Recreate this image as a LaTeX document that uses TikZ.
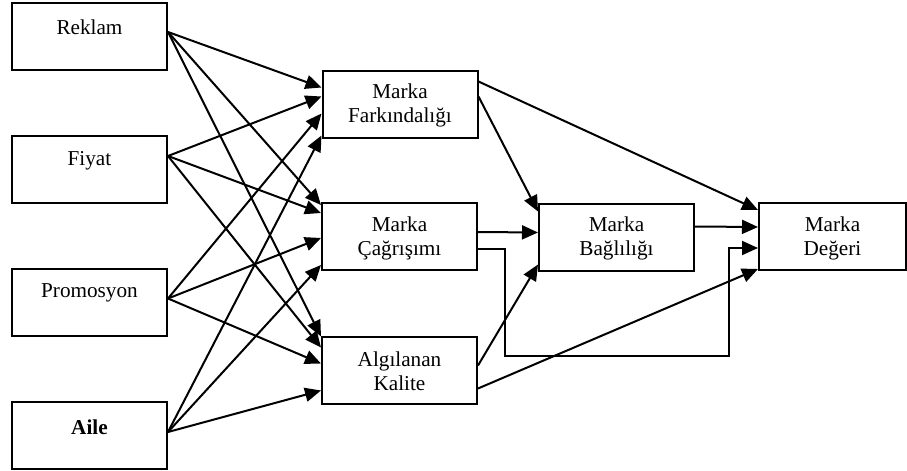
\documentclass[tikz,border=0pt]{standalone}
\usepackage{fontspec}
\setmainfont{Liberation Serif}
\usetikzlibrary{arrows.meta,calc}
\begin{document}
\begin{tikzpicture}[x=0.5pt,y=-0.5pt,
  box/.style={draw,line width=1pt,inner sep=0pt,minimum width=77.5pt,minimum height=33.5pt},
  txt/.style={align=center,inner sep=0pt,font=\fontsize{10.6}{12}\selectfont},
  conn/.style={line width=1pt,-{Triangle[length=8pt,width=7pt]}}]
\useasboundingbox (0,0) rectangle (907,471);
% boxes
\node[box] (reklam) at (89.5,36.5) {};
\node[box] (fiyat) at (89.5,169.5) {};
\node[box] (promo) at (89.5,302) {};
\node[box] (aile) at (89.5,435.5) {};
\node[box] (fark) at (400,104) {};
\node[box] (cag) at (399.5,236.5) {};
\node[box] (kal) at (399.5,370) {};
\node[box] (bag) at (616.5,237) {};
\node[box,minimum width=73.5pt] (deg) at (832.5,236.5) {};
% texts
\node[txt] (reklamT) at ([yshift=-12.5pt]reklam.north) {Reklam};
\node[txt] (fiyatT) at ([yshift=-13pt]fiyat.north) {Fiyat};
\node[txt] (promoT) at ([yshift=-12.5pt]promo.north) {Promosyon};
\node[txt] (aileT) at ([yshift=-13pt]aile.north) {\bfseries Aile};
\node[txt] (farkT) at ([yshift=-18pt]fark.north) {Marka\\Farkındalığı};
\node[txt] (cagT) at ([yshift=-18pt]cag.north) {Marka\\Çağrışımı};
\node[txt] (kalT) at ([yshift=-18pt]kal.north) {Algılanan\\Kalite};
\node[txt] (bagT) at ([yshift=-18pt]bag.north) {Marka\\Bağlılığı};
\node[txt] (degT) at ([yshift=-18pt]deg.north) {Marka\\Değeri};
% sources
\coordinate (sR) at ($(reklam.north east)+(0,30)$);
\coordinate (sF) at ($(fiyat.north east)+(0,21)$);
\coordinate (sP) at ($(promo.north east)+(0,31)$);
\coordinate (sA) at ($(aile.north east)+(0,31)$);
% into fark
\draw[conn] (sR) -- ($(fark.north west)+(0,18)$);
\draw[conn] (sF) -- ($(fark.north west)+(0,27)$);
\draw[conn] (sP) -- ($(fark.north west)+(0,44)$);
\draw[conn] (sA) -- ($(fark.north west)+(0,66)$);
% into cag
\draw[conn] (sR) -- ($(cag.north west)+(0,3)$);
\draw[conn] (sF) -- ($(cag.north west)+(0,11)$);
\draw[conn] (sP) -- ($(cag.north west)+(0,36)$);
\draw[conn] (sA) -- ($(cag.north west)+(0,63)$);
% into kal
\draw[conn] (sR) -- ($(kal.north west)+(0,1)$);
\draw[conn] (sF) -- ($(kal.north west)+(0,12)$);
\draw[conn] (sP) -- ($(kal.north west)+(0,28)$);
\draw[conn] (sA) -- ($(kal.north west)+(0,55)$);
% into bag
\draw[conn] ($(fark.north east)+(0,27)$) -- ($(bag.north west)+(0,9)$);
\draw[conn] ($(cag.north east)+(0,30)$) -- ($(bag.north west)+(0,30)$);
\draw[conn] ($(kal.north east)+(0,30)$) -- ($(bag.north west)+(0,62)$);
% into deg
\draw[conn] ($(fark.north east)+(0,12)$) -- ($(deg.north west)+(0,8)$);
\draw[conn] ($(bag.north east)+(0,24)$) -- ($(deg.north west)+(0,25)$);
\coordinate (elb1) at (505,356);
\coordinate (elb2) at (729,356);
\draw[conn] ($(cag.north east)+(0,47)$) -| (elb1) -- (elb2) |- ($(deg.north west)+(0,46)$);
\draw[conn] ($(kal.north east)+(0,53)$) -- ($(deg.north west)+(0,67)$);
\end{tikzpicture}
\end{document}
